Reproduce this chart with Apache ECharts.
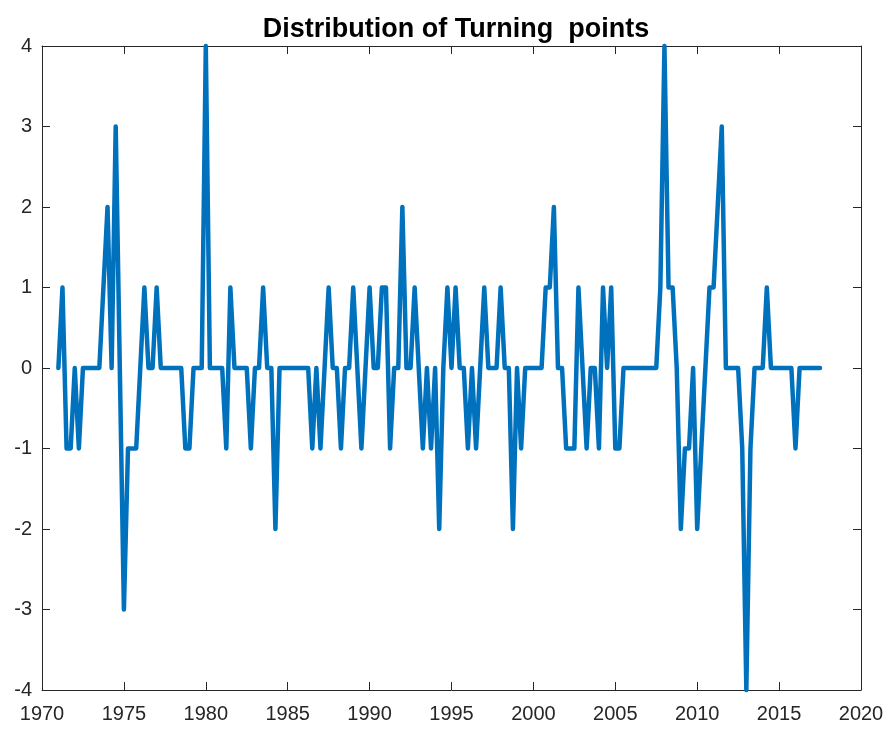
<!DOCTYPE html>
<html>
<head>
<meta charset="utf-8">
<script src="https://cdn.jsdelivr.net/npm/echarts@6/dist/echarts.min.js"></script>
<style>
html,body{margin:0;padding:0;background:#fff;}
#chart{width:889px;height:731px;}
</style>
</head>
<body>
<div id="chart"></div>
<script>
// Quarterly observations, first one is 1971 Q1 (1971.00), step one quarter
const firstDate = 1971.0;
const stepYears = 0.25;
// Turning-point counts, one per quarter
const turningPoints = [
  0, 1, -1, -1,   // 1971
  0, -1, 0, 0,    // 1972
  0, 0, 0, 1,     // 1973
  2, 0, 3, 0,     // 1974
  -3, -1, -1, -1, // 1975
  0, 1, 0, 0,     // 1976
  1, 0, 0, 0,     // 1977
  0, 0, 0, -1,    // 1978
  -1, 0, 0, 0,    // 1979
  4, 0, 0, 0,     // 1980
  0, -1, 1, 0,    // 1981
  0, 0, 0, -1,    // 1982
  0, 0, 1, 0,     // 1983
  0, -2, 0, 0,    // 1984
  0, 0, 0, 0,     // 1985
  0, 0, -1, 0,    // 1986
  -1, 0, 1, 0,    // 1987
  0, -1, 0, 0,    // 1988
  1, 0, -1, 0,    // 1989
  1, 0, 0, 1,     // 1990
  1, -1, 0, 0,    // 1991
  2, 0, 0, 1,     // 1992
  0, -1, 0, -1,   // 1993
  0, -2, 0, 1,    // 1994
  0, 1, 0, 0,     // 1995
  -1, 0, -1, 0,   // 1996
  1, 0, 0, 0,     // 1997
  1, 0, 0, -2,    // 1998
  0, -1, 0, 0,    // 1999
  0, 0, 0, 1,     // 2000
  1, 2, 0, 0,     // 2001
  -1, -1, -1, 1,  // 2002
  0, -1, 0, 0,    // 2003
  -1, 1, 0, 1,    // 2004
  -1, -1, 0, 0,   // 2005
  0, 0, 0, 0,     // 2006
  0, 0, 0, 1,     // 2007
  4, 1, 1, 0,     // 2008
  -2, -1, -1, 0,  // 2009
  -2, -1, 0, 1,   // 2010
  1, 2, 3, 0,     // 2011
  0, 0, 0, -1,    // 2012
  -4, -1, 0, 0,   // 2013
  0, 1, 0, 0,     // 2014
  0, 0, 0, 0,     // 2015
  -1, 0, 0, 0,    // 2016
  0, 0, 0         // 2017
];
const xTicks = [1970, 1975, 1980, 1985, 1990, 1995, 2000, 2005, 2010, 2015, 2020];
const yTicks = [-4, -3, -2, -1, 0, 1, 2, 3, 4];
const titleText = 'Distribution of Turning  points';

const seriesData = turningPoints.map((v, i) => [firstDate + i * stepYears, v]);

const chart = echarts.init(document.getElementById('chart'), null, {renderer: 'canvas'});
const axisColor = '#262626';
const fontFam = '"Liberation Sans", Arial, Helvetica, sans-serif';

function xAxisBase(pos, showLabels) {
  return {
    type: 'value', position: pos,
    min: xTicks[0], max: xTicks[xTicks.length - 1], interval: 5,
    axisLine: {show: true, onZero: false, lineStyle: {color: axisColor, width: 1}},
    axisTick: {show: true, inside: true, length: 8, lineStyle: {color: axisColor, width: 1}},
    axisLabel: {show: showLabels, color: axisColor, fontSize: 20, fontFamily: fontFam, margin: 14,
      formatter: function (v) { return String(v); }},
    splitLine: {show: false}
  };
}
function yAxisBase(pos, showLabels) {
  return {
    type: 'value', position: pos,
    min: yTicks[0], max: yTicks[yTicks.length - 1], interval: 1,
    axisLine: {show: true, onZero: false, lineStyle: {color: axisColor, width: 1}},
    axisTick: {show: true, inside: true, length: 8, lineStyle: {color: axisColor, width: 1}},
    axisLabel: {show: showLabels, color: axisColor, fontSize: 20, fontFamily: fontFam, margin: 10},
    splitLine: {show: false}
  };
}

chart.setOption({
  animation: false,
  backgroundColor: '#ffffff',
  title: {
    text: titleText, left: 451, top: 11, textAlign: 'center',
    textStyle: {fontSize: 27, fontWeight: 'bold', color: '#000', fontFamily: fontFam}
  },
  grid: {left: 42, right: 28, top: 46, bottom: 41, containLabel: false},
  xAxis: [xAxisBase('bottom', true), xAxisBase('top', false)],
  yAxis: [yAxisBase('left', true), yAxisBase('right', false)],
  series: [{
    type: 'line',
    xAxisIndex: 0, yAxisIndex: 0,
    data: seriesData,
    showSymbol: false,
    lineStyle: {color: '#0072BD', width: 4.5, join: 'round', cap: 'round'},
    clip: false
  }]
});
</script>
</body>
</html>
